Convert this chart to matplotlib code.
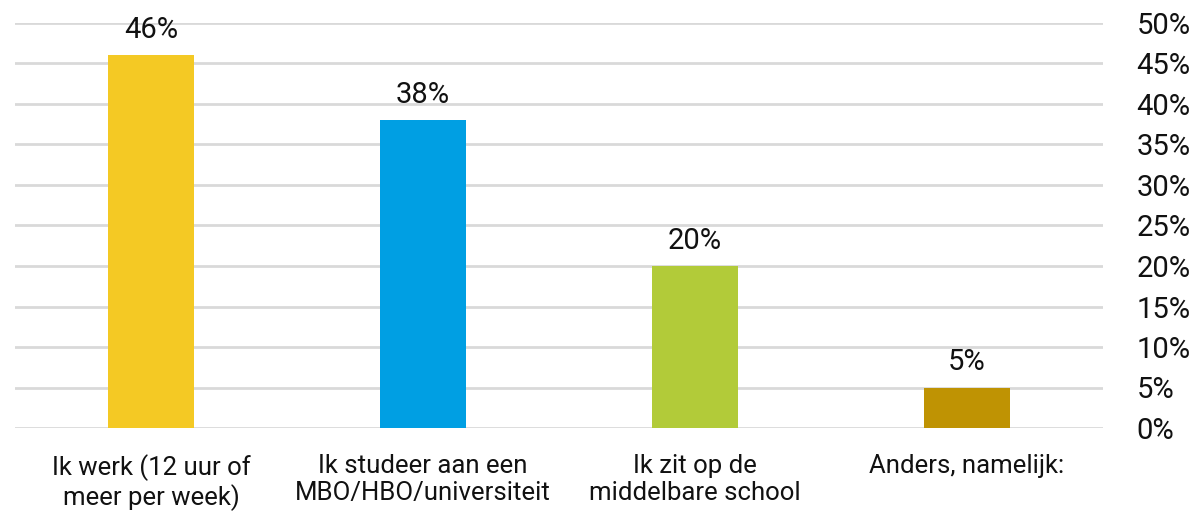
import matplotlib
matplotlib.use('Agg')
import matplotlib.pyplot as plt
import numpy as np

plt.rcParams['font.family'] = ['Roboto', 'DejaVu Sans']

categories = ['Ik werk (12 uur of\nmeer per week)',
              'Ik studeer aan een\nMBO/HBO/universiteit',
              'Ik zit op de\nmiddelbare school',
              'Anders, namelijk:']
values = [46, 38, 20, 5]
colors = ['#F4C924', '#009FE3', '#B2CB39', '#BF9303']
yticks = [0, 5, 10, 15, 20, 25, 30, 35, 40, 45, 50]

W, H = 1201, 513
fig = plt.figure(figsize=(W / 100, H / 100), dpi=100)
ax = fig.add_axes([15 / W, (H - 428) / H, (1103 - 15) / W, (428 - 23) / H])

x = np.arange(len(values))
bars = ax.bar(x, values, width=0.316, color=colors, zorder=3)

for xi, v in zip(x, values):
    ax.annotate(f'{v}%', (xi, v), xytext=(0, 8), textcoords='offset points',
                ha='center', va='bottom', fontsize=21, color='#111111')

ax.set_xlim(-0.5, len(values) - 0.5)
ax.set_ylim(0, 50)
ax.set_yticks(yticks)
ax.set_yticklabels([f'{t}%' for t in yticks], fontsize=21, color='#111111')
ax.yaxis.tick_right()
ax.tick_params(axis='y', length=0, pad=24)
for lbl in ax.get_yticklabels():
    lbl.set_horizontalalignment('left')

ax.set_xticks(x)
ax.set_xticklabels(categories, fontsize=18.5, color='#111111', linespacing=1.15)
ax.tick_params(axis='x', length=0, pad=19)

ax.grid(axis='y', color='#D9D9D9', linewidth=2, zorder=0)
for s in ax.spines.values():
    s.set_visible(False)

fig.savefig('out.png', dpi=100, facecolor='white')
